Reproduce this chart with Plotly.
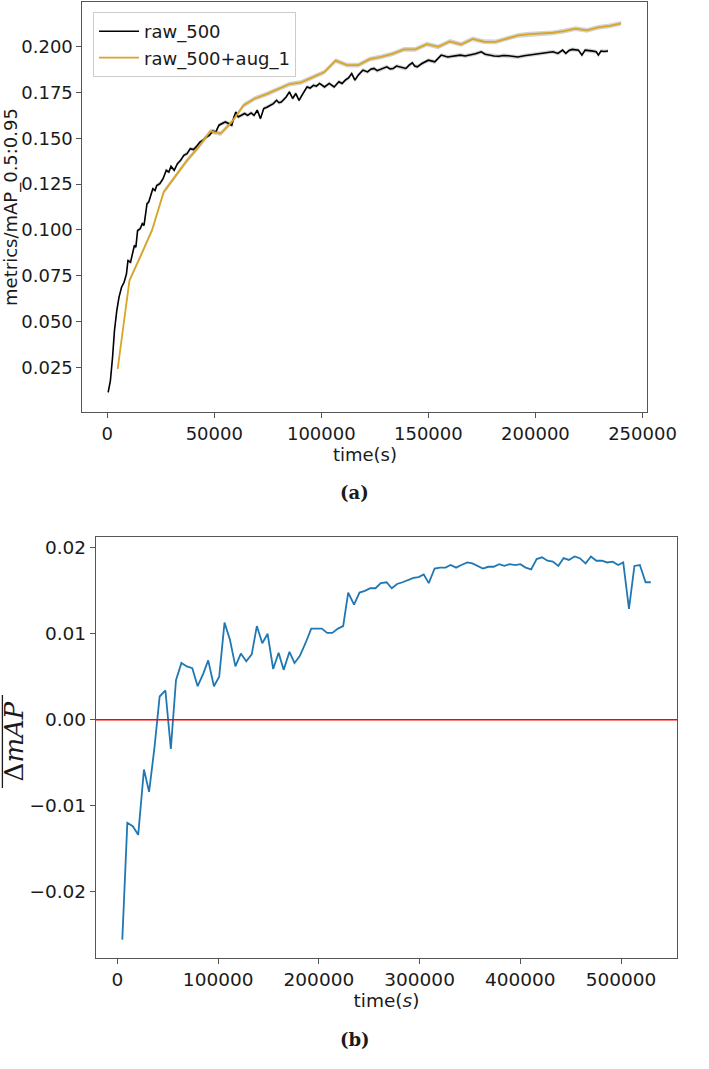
import plotly.graph_objects as go

# ---------------- data: panel (a) ----------------
RAW_T = [450, 1500, 2500, 3400, 4500, 5500, 6700, 7900, 9000, 9700, 10900, 11900, 12700, 13400,
         14200, 15400, 16400, 17200, 17900, 18600, 19400, 20100, 21300, 22400, 23100, 24600, 26100,
         27600, 28800, 29800, 31300, 32800, 34300, 35800, 37300, 38800, 40300, 41800, 43300, 44800,
         46300, 47700, 49300, 50700, 52200, 53700, 55200, 56700, 58200, 59200, 60100, 61200, 62700,
         64200, 65600, 67200, 68600, 70100, 71600, 73100, 74600, 76100, 77600, 79100, 80200, 81300,
         82500, 83600, 85100, 86600, 88100, 89600, 91000, 92200, 93300, 94800, 96300, 97700, 99200,
         101500, 103700, 106000, 108200, 109700, 111200, 112700, 114200, 115700, 117200, 119400,
         121600, 123100, 124600, 126100, 127600, 129100, 130600, 132100, 133600, 135100, 136600,
         138000, 139500, 141000, 142500, 143600, 144800, 147000, 150000, 153000, 156000, 159000,
         161900, 164900, 167200, 169400, 172000, 174700, 176500, 178400, 180600, 182900, 185100,
         187300, 189500, 191800, 194800, 197000, 199300, 201500, 203800, 206000, 208200, 210500,
         212700, 214200, 215700, 217200, 220100, 221700, 223200, 226100, 228400, 229400, 230600,
         232200, 233900]
RAW_MAP = [0.0113, 0.0177, 0.0304, 0.0450, 0.0560, 0.0632, 0.0687, 0.0714, 0.0760, 0.0833, 0.0824,
           0.0870, 0.0915, 0.0906, 0.0997, 0.1006, 0.1034, 0.1025, 0.1079, 0.1143, 0.1152, 0.1179,
           0.1225, 0.1216, 0.1243, 0.1253, 0.1280, 0.1326, 0.1316, 0.1347, 0.1326, 0.1362, 0.1380,
           0.1408, 0.1417, 0.1444, 0.1439, 0.1457, 0.1480, 0.1490, 0.1508, 0.1517, 0.1540, 0.1535,
           0.1572, 0.1581, 0.1590, 0.1581, 0.1572, 0.1617, 0.1644, 0.1617, 0.1626, 0.1636, 0.1626,
           0.1639, 0.1626, 0.1654, 0.1608, 0.1663, 0.1670, 0.1681, 0.1690, 0.1708, 0.1695, 0.1699,
           0.1712, 0.1726, 0.1754, 0.1718, 0.1745, 0.1708, 0.1736, 0.1760, 0.1781, 0.1775, 0.1790,
           0.1785, 0.1800, 0.1781, 0.1800, 0.1781, 0.1809, 0.1800, 0.1818, 0.1830, 0.1854, 0.1818,
           0.1845, 0.1873, 0.1863, 0.1878, 0.1882, 0.1870, 0.1876, 0.1885, 0.1891, 0.1880, 0.1882,
           0.1895, 0.1891, 0.1885, 0.1882, 0.1900, 0.1913, 0.1895, 0.1891, 0.1909, 0.1927, 0.1918,
           0.1955, 0.1945, 0.1949, 0.1955, 0.1950, 0.1955, 0.1962, 0.1973, 0.1960, 0.1955, 0.1950,
           0.1949, 0.1953, 0.1951, 0.1947, 0.1945, 0.1951, 0.1955, 0.1958, 0.1962, 0.1967, 0.1970,
           0.1973, 0.1964, 0.1982, 0.1964, 0.1980, 0.1986, 0.1982, 0.1955, 0.1982, 0.1978, 0.1973,
           0.1955, 0.1977, 0.1975, 0.1977]
RAW_STD = 0.0011

AUG_T = [4900, 10400, 15700, 20900, 26400, 32100, 37300, 42500, 48200, 53000, 58200, 63700, 69000,
         74400, 79800, 85200, 90600, 96000, 101400, 106700, 112000, 117300, 122600, 127900, 133200,
         138600, 143900, 149300, 154600, 160000, 165300, 170700, 176000, 181400, 186700, 192000,
         197300, 202700, 208000, 213300, 218700, 224000, 229300, 234700, 240000]
AUG_MAP = [0.0241, 0.0724, 0.0860, 0.0997, 0.1207, 0.1298, 0.1380, 0.1450, 0.1539, 0.1526, 0.1590,
           0.1681, 0.1718, 0.1742, 0.1768, 0.1797, 0.1806, 0.1835, 0.1862, 0.1925, 0.1900, 0.1900,
           0.1933, 0.1945, 0.1962, 0.1986, 0.1986, 0.2015, 0.2000, 0.2030, 0.2013, 0.2043, 0.2028,
           0.2027, 0.2046, 0.2063, 0.2069, 0.2073, 0.2077, 0.2086, 0.2100, 0.2090, 0.2106, 0.2115,
           0.2128]
AUG_STD = 0.0013

TOP_YTICKS = [0.025, 0.050, 0.075, 0.100, 0.125, 0.150, 0.175, 0.200]
TOP_XTICKS = [0, 50000, 100000, 150000, 200000, 250000]

# ---------------- data: panel (b) ----------------
DIFF_T = [4800, 9800, 15200, 20600, 26300, 31400, 36800, 41900, 47600, 53000, 58100, 63500, 68900,
          74300, 79600, 85000, 90100, 95800, 101000, 106300, 111700, 117100, 122500, 127900, 133300,
          138400, 143800, 149100, 154600, 160000, 165000, 170800, 175800, 181000, 186700, 192400,
          197400, 202900, 208200, 213300, 219000, 224100, 229100, 234900, 240300, 245700, 251000,
          256200, 261500, 267200, 272400, 277700, 283100, 288200, 293900, 299000, 304100, 309100,
          314900, 320300, 325700, 330800, 336200, 341500, 347300, 352400, 357700, 362900, 368200,
          373600, 379000, 384100, 389500, 394900, 400000, 405300, 410800, 416200, 421500, 427000,
          432400, 437700, 442900, 448200, 453900, 459000, 464800, 470100, 475500, 481000, 486300,
          491700, 497100, 502200, 507900, 513300, 518700, 524400, 529500]
DIFF_VAL = [-0.0256, -0.0120, -0.0124, -0.0134, -0.0058, -0.0084, -0.0032, 0.0027, 0.0034, -0.0034,
            0.0046, 0.0066, 0.0062, 0.0060, 0.0039, 0.0053, 0.0069, 0.0039, 0.0050, 0.0113, 0.0093,
            0.0062, 0.0077, 0.0068, 0.0076, 0.0109, 0.0089, 0.0100, 0.0059, 0.0078, 0.0058, 0.0079,
            0.0066, 0.0074, 0.0089, 0.0106, 0.0106, 0.0106, 0.0101, 0.0101, 0.0106, 0.0109, 0.0148,
            0.0134, 0.0148, 0.0150, 0.0153, 0.0153, 0.0159, 0.0160, 0.0153, 0.0158, 0.0160, 0.0162,
            0.0165, 0.0166, 0.0169, 0.0159, 0.0176, 0.0177, 0.0177, 0.0180, 0.0177, 0.0180, 0.0183,
            0.0182, 0.0179, 0.0176, 0.0178, 0.0178, 0.0181, 0.0179, 0.0181, 0.0180, 0.0181, 0.0177,
            0.0175, 0.0187, 0.0189, 0.0185, 0.0184, 0.0179, 0.0188, 0.0186, 0.0190, 0.0188, 0.0182,
            0.0190, 0.0185, 0.0185, 0.0183, 0.0184, 0.0180, 0.0183, 0.0129, 0.0179, 0.0180, 0.0160,
            0.0160]
BOT_YTICKS = [-0.02, -0.01, 0.00, 0.01, 0.02]
BOT_YTICKTEXT = ["\u22120.02", "\u22120.01", "0.00", "0.01", "0.02"]
BOT_XTICKS = [0, 100000, 200000, 300000, 400000, 500000]

# ---------------- figure ----------------
W, H = 709, 1069
fig = go.Figure()

BAND = "rgba(140,140,140,0.38)"


def band(xs, ys, sd, xa, ya):
    up = [v + sd for v in ys]
    lo = [v - sd for v in ys]
    return go.Scatter(x=list(xs) + list(xs)[::-1], y=up + lo[::-1], fill="toself",
                      fillcolor=BAND, line=dict(width=0), mode="lines",
                      showlegend=False, hoverinfo="skip", xaxis=xa, yaxis=ya)


fig.add_trace(band(RAW_T, RAW_MAP, RAW_STD, "x", "y"))
fig.add_trace(band(AUG_T, AUG_MAP, AUG_STD, "x", "y"))
fig.add_trace(go.Scatter(x=RAW_T, y=RAW_MAP, mode="lines", name="raw_500",
                         line=dict(color="#000000", width=1.6), xaxis="x", yaxis="y"))
fig.add_trace(go.Scatter(x=AUG_T, y=AUG_MAP, mode="lines", name="raw_500+aug_1",
                         line=dict(color="#DAA520", width=1.8), xaxis="x", yaxis="y"))

fig.add_trace(go.Scatter(x=DIFF_T, y=DIFF_VAL, mode="lines", showlegend=False,
                         line=dict(color="#1f77b4", width=1.8), xaxis="x2", yaxis="y2"))

AX = "#555555"
FONT = "DejaVu Sans"
TXT = "#1a1a1a"


def px_x(p):
    return p / W


def px_y(p):
    return 1 - p / H


common = dict(showgrid=False, zeroline=False, showline=True, linecolor=AX, linewidth=1.2,
              mirror=True, ticks="outside", ticklen=5, tickwidth=1.1, tickcolor=AX)

fig.update_layout(
    width=W, height=H,
    margin=dict(l=0, r=0, t=0, b=0),
    paper_bgcolor="white", plot_bgcolor="white",
    font=dict(family=FONT, color=TXT, size=18),
    xaxis=dict(domain=[px_x(86), px_x(675)], anchor="y", range=[-11540, 252290],
               tickvals=TOP_XTICKS, ticktext=[str(v) for v in TOP_XTICKS],
               tickfont=dict(size=18), title=dict(text="time(s)", font=dict(size=18), standoff=0),
               **common),
    yaxis=dict(domain=[px_y(412), px_y(2)], anchor="x", range=[0.00055, 0.2245],
               tickvals=TOP_YTICKS, ticktext=["%.3f" % v for v in TOP_YTICKS],
               tickfont=dict(size=18),
               title=dict(text="metrics/mAP_0.5:0.95", font=dict(size=18), standoff=2),
               **common),
    xaxis2=dict(domain=[px_x(100), px_x(706)], anchor="y2", range=[-21400, 555700],
                tickvals=BOT_XTICKS, ticktext=[str(v) for v in BOT_XTICKS],
                tickfont=dict(size=18.5),
                title=dict(text="time(<i>s</i>)", font=dict(size=18.5), standoff=2),
                **common),
    yaxis2=dict(domain=[px_y(957.7), px_y(536.7)], anchor="x2", range=[-0.0277, 0.0213],
                tickvals=BOT_YTICKS, ticktext=BOT_YTICKTEXT, tickfont=dict(size=18.5),
                **common),
    legend=dict(x=px_x(97), y=px_y(12), xanchor="left", yanchor="top",
                bgcolor="rgba(255,255,255,0.85)", bordercolor="#cccccc", borderwidth=1,
                font=dict(size=18, family=FONT), itemwidth=40, tracegroupgap=0),
    showlegend=True,
)

fig.add_shape(type="line", xref="x2 domain", yref="y2", x0=0, x1=1, y0=0, y1=0,
              line=dict(color="#ff0000", width=1.6))

# y-axis title of panel (b): overlined Delta mAP, rotated
fig.add_annotation(text="\u0394<i>mAP</i>", x=px_x(15), y=px_y(741), xref="paper", yref="paper",
                   textangle=-90, showarrow=False, xanchor="center", yanchor="middle",
                   font=dict(size=26, family="DejaVu Serif", color=TXT))
fig.add_shape(type="line", xref="paper", yref="paper", x0=px_x(2.5), x1=px_x(2.5),
              y0=px_y(695), y1=px_y(788), line=dict(color=TXT, width=1.3))

fig.add_annotation(text="<b>(a)</b>", x=px_x(370), y=px_y(492), xref="paper", yref="paper",
                   showarrow=False, font=dict(size=18, family="DejaVu Serif", color=TXT))
fig.add_annotation(text="<b>(b)</b>", x=px_x(370), y=px_y(1052), xref="paper", yref="paper",
                   showarrow=False, font=dict(size=18, family="DejaVu Serif", color=TXT))

fig.write_html("out.html")
